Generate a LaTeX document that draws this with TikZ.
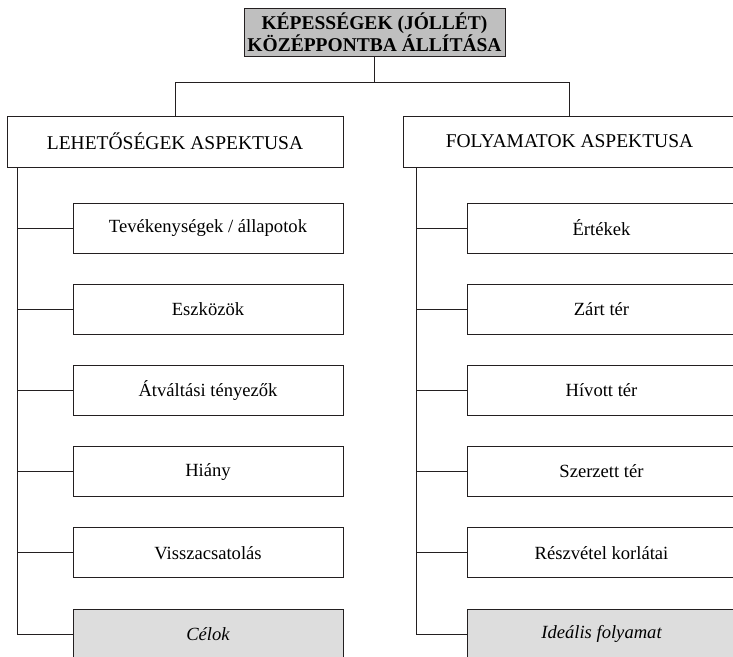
\documentclass[tikz,border=0pt]{standalone}
\usepackage{fontspec}
\setmainfont{Liberation Serif}
\usetikzlibrary{positioning}
\definecolor{topgray}{HTML}{BFBFBF}
\definecolor{goalgray}{HTML}{DDDDDD}
\definecolor{linegray}{HTML}{231F20}

\begin{document}
\begin{tikzpicture}[x=1pt,y=-1pt,line width=1pt,draw=linegray,node distance=81.2pt,
    main box/.style={rectangle,draw=linegray,inner sep=0pt,minimum height=50pt,minimum width=270pt,font=\fontsize{18.6}{20}\selectfont},
    aspect box/.style={main box,minimum height=51pt,font=\fontsize{19.5}{21}\selectfont},
    goal box/.style={main box,fill=goalgray,font=\fontsize{18.6}{20}\selectfont\itshape},
    top box/.style={rectangle,draw=linegray,fill=topgray,inner sep=0pt,minimum width=261pt,minimum height=48pt,align=center,font=\fontsize{19.5}{19}\selectfont\bfseries}]
    \useasboundingbox (0,0) rectangle (733,656);

    \node[top box] (top) at (374.5,32) {KÉPESSÉGEK (JÓLLÉT)\\KÖZÉPPONTBA ÁLLÍTÁSA};

    \node[aspect box,minimum width=336pt] (lehet) at (175,141.5) {LEHETŐSÉGEK ASPEKTUSA};
    \node[aspect box,minimum width=333pt] (foly) at (569.5,141.5) {FOLYAMATOK ASPEKTUSA};

    % left column
    \node[main box] (l1) at (208,228) {Tevékenységek / állapotok};
    \node[main box] (l2) [below of=l1] {Eszközök};
    \node[main box] (l3) [below of=l2] {Átváltási tényezők};
    \node[main box] (l4) [below of=l3] {Hiány};
    \node[main box] (l5) [below of=l4] {Visszacsatolás};
    \node[goal box] (l6) [below of=l5] {Célok};

    % right column
    \node[main box,minimum width=269pt] (r1) at (601.5,228) {Értékek};
    \node[main box,minimum width=269pt] (r2) [below of=r1] {Zárt tér};
    \node[main box,minimum width=269pt] (r3) [below of=r2] {Hívott tér};
    \node[main box,minimum width=269pt] (r4) [below of=r3] {Szerzett tér};
    \node[main box,minimum width=269pt] (r5) [below of=r4] {Részvétel korlátai};
    \node[goal box,minimum width=269pt] (r6) [below of=r5] {Ideális folyamat};

    \draw (top.south) -- ++(0,26) -| (lehet.north);
    \draw (top.south) -- ++(0,26) -| (foly.north);

    \coordinate (lspine) at ([xshift=11pt]lehet.south west);
    \coordinate (rspine) at ([xshift=14pt]foly.south west);

    \draw (lspine) |- (l6.west);
    \draw (rspine) |- (r6.west);

    \path
        (l1.west) edge (l1.west -| lspine)
        (l2.west) edge (l2.west -| lspine)
        (l3.west) edge (l3.west -| lspine)
        (l4.west) edge (l4.west -| lspine)
        (l5.west) edge (l5.west -| lspine)
        (r1.west) edge (r1.west -| rspine)
        (r2.west) edge (r2.west -| rspine)
        (r3.west) edge (r3.west -| rspine)
        (r4.west) edge (r4.west -| rspine)
        (r5.west) edge (r5.west -| rspine)
    ;
\end{tikzpicture}
\end{document}
